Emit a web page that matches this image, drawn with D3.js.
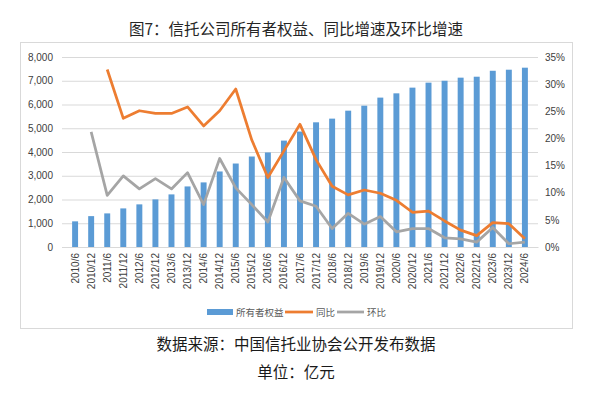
<!DOCTYPE html>
<html>
<head>
<meta charset="utf-8">
<script src="https://cdn.jsdelivr.net/npm/d3@7/dist/d3.min.js"></script>
<style>
  body { margin: 0; background: #fff; }
  text { font-family: "Liberation Sans", Arial, sans-serif; }
  .cjk { font-family: "Noto Sans CJK SC", sans-serif; }
</style>
</head>
<body>
<div id="chart"></div>
<script>
const width = 593
const height = 397
const margin = { top: 57, bottom: 150, left: 62, right: 55 }

// 数据
const periods = ["2010/6","2010/12","2011/6","2011/12","2012/6","2012/12","2013/6","2013/12",
  "2014/6","2014/12","2015/6","2015/12","2016/6","2016/12","2017/6","2017/12","2018/6","2018/12",
  "2019/6","2019/12","2020/6","2020/12","2021/6","2021/12","2022/6","2022/12","2023/6","2023/12","2024/6"]
const equity = [1080,1300,1415,1625,1795,2005,2215,2550,2720,3180,3515,3810,3980,4480,4860,5250,5405,
  5740,5950,6290,6470,6710,6920,7000,7130,7170,7420,7465,7550]
const yoy = [null,null,32.7,23.7,25.1,24.6,24.6,25.8,22.3,25.1,29.1,19.7,12.8,17.7,22.6,16.1,11.2,9.6,
  10.5,9.9,8.6,6.4,6.6,4.8,3.1,2.1,4.5,4.3,1.5]
const qoq = [null,21.2,9.5,13.1,10.7,12.6,10.7,13.7,7.8,16.3,10.9,7.8,4.6,12.8,8.5,7.5,3.4,6.2,4.2,5.6,
  2.8,3.4,3.4,1.7,1.5,0.9,3.6,0.6,0.9]
const leftTicks = [0,1000,2000,3000,4000,5000,6000,7000,8000]
const rightTicks = [0,5,10,15,20,25,30,35]

const svg = d3.select("#chart").append("svg")
    .attr("width", width)
    .attr("height", height)

const innerW = width - margin.left - margin.right
const innerH = height - margin.top - margin.bottom

// 外框
svg.append("rect")
    .attr("x", 20.5).attr("y", 42.5)
    .attr("width", 552).attr("height", 286)
    .attr("fill", "#fff")
    .attr("stroke", "#d9d9d9")

svg.append("text")
    .attr("class", "cjk")
    .attr("x", 296).attr("y", 35)
    .attr("text-anchor", "middle")
    .attr("font-size", 15.5)
    .attr("fill", "#262626")
    .text("图7：信托公司所有者权益、同比增速及环比增速")

const g = svg.append("g").attr("transform", `translate(${margin.left}, ${margin.top})`)

const x = d3.scaleBand().domain(periods).range([0, innerW]).padding(0.63)
const y = d3.scaleLinear().domain([0, 8000]).range([innerH, 0])
const y2 = d3.scaleLinear().domain([0, 35]).range([innerH, 0])

// 网格线
g.append("g")
    .call(d3.axisLeft(y).tickValues(leftTicks).tickSize(-innerW).tickFormat(d3.format(",")))
    .call(a => a.select(".domain").remove())
    .call(a => a.selectAll("line").attr("stroke", "#d9d9d9"))
    .call(a => a.selectAll("text").attr("x", -9).attr("font-size", 10).attr("fill", "#404040").attr("font-family", "Liberation Sans"))

g.append("g")
    .attr("transform", `translate(${innerW}, 0)`)
    .call(d3.axisRight(y2).tickValues(rightTicks).tickSize(0).tickFormat(d => d + "%"))
    .call(a => a.select(".domain").remove())
    .call(a => a.selectAll("text").attr("x", 7).attr("font-size", 10).attr("fill", "#404040").attr("font-family", "Liberation Sans"))

// 柱
g.selectAll(".bar")
    .data(periods)
    .join("rect")
    .attr("class", "bar")
    .attr("x", d => x(d))
    .attr("width", x.bandwidth())
    .attr("y", (d, i) => y(equity[i]))
    .attr("height", (d, i) => innerH - y(equity[i]))
    .attr("fill", "#5b9bd5")

// x 轴
g.append("g")
    .attr("transform", `translate(0, ${innerH})`)
    .call(d3.axisBottom(x).tickSize(0))
    .call(a => a.select(".domain").attr("stroke", "#d9d9d9"))
    .call(a => a.selectAll("text")
        .attr("transform", "rotate(-90)")
        .attr("text-anchor", "end")
        .attr("x", -6).attr("y", 0).attr("dy", "0.35em")
        .attr("font-size", 10).attr("fill", "#404040").attr("font-family", "Liberation Sans"))

const cx = d => x(d) + x.bandwidth() / 2

const line = vals => d3.line()
    .defined((d, i) => vals[i] != null)
    .x(d => cx(d))
    .y((d, i) => y2(vals[i]))

g.append("path")
    .attr("d", line(qoq)(periods))
    .attr("fill", "none")
    .attr("stroke", "#a5a5a5")
    .attr("stroke-width", 2.75)
    .attr("stroke-linejoin", "round")

g.append("path")
    .attr("d", line(yoy)(periods))
    .attr("fill", "none")
    .attr("stroke", "#ed7d31")
    .attr("stroke-width", 2.75)
    .attr("stroke-linejoin", "round")

// 图例
const legend = svg.append("g").attr("transform", "translate(0, 312)")
legend.append("rect").attr("x", 207).attr("y", -3).attr("width", 26).attr("height", 6).attr("fill", "#5b9bd5")
legend.append("text").attr("class", "cjk").attr("x", 236).attr("y", 4).attr("font-size", 9.5).attr("fill", "#595959").text("所有者权益")
legend.append("line").attr("x1", 285).attr("x2", 313).attr("y1", 0).attr("y2", 0).attr("stroke", "#ed7d31").attr("stroke-width", 2.75)
legend.append("text").attr("class", "cjk").attr("x", 316).attr("y", 4).attr("font-size", 9.5).attr("fill", "#595959").text("同比")
legend.append("line").attr("x1", 337).attr("x2", 364).attr("y1", 0).attr("y2", 0).attr("stroke", "#a5a5a5").attr("stroke-width", 2.75)
legend.append("text").attr("class", "cjk").attr("x", 367).attr("y", 4).attr("font-size", 9.5).attr("fill", "#595959").text("环比")

// 注释
svg.append("text").attr("class", "cjk")
    .attr("x", 296).attr("y", 350)
    .attr("text-anchor", "middle").attr("font-size", 15.5).attr("fill", "#1a1a1a")
    .text("数据来源：中国信托业协会公开发布数据")
svg.append("text").attr("class", "cjk")
    .attr("x", 296).attr("y", 378)
    .attr("text-anchor", "middle").attr("font-size", 15.5).attr("fill", "#1a1a1a")
    .text("单位：亿元")
</script>
</body>
</html>
